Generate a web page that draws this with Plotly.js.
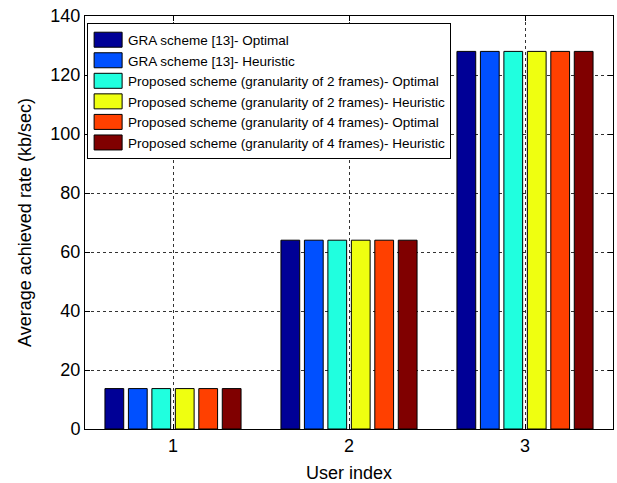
<!DOCTYPE html>
<html>
<head>
<meta charset="utf-8">
<script src="https://cdn.plot.ly/plotly-3.0.1.min.js"></script>
<style>
  html, body { margin: 0; padding: 0; background: #fff; }
  #chart { width: 617px; height: 483px; }
</style>
</head>
<body>
<div id="chart"></div>
<script>
// User indices on the x axis
const users = [1, 2, 3];

// Series names, one per bar in each group
const seriesNames = [
  'GRA scheme [13]- Optimal',
  'GRA scheme [13]- Heuristic',
  'Proposed scheme (granularity of 2 frames)- Optimal',
  'Proposed scheme (granularity of 2 frames)- Heuristic',
  'Proposed scheme (granularity of 4 frames)- Optimal',
  'Proposed scheme (granularity of 4 frames)- Heuristic'
];

// Average achieved rate (kb/sec) per user, for each scheme
const graOptimal      = [13.7, 64, 128];
const graHeuristic    = [13.7, 64, 128];
const prop2Optimal    = [13.7, 64, 128];
const prop2Heuristic  = [13.7, 64, 128];
const prop4Optimal    = [13.7, 64, 128];
const prop4Heuristic  = [13.7, 64, 128];

// Bar fill colours (jet-style palette)
const seriesColors = ['#000096', '#0050FF', '#20FFDF', '#EFFF10', '#FF4000', '#800000'];

const yTicks = [0, 20, 40, 60, 80, 100, 120, 140];

const seriesValues = [graOptimal, graHeuristic, prop2Optimal, prop2Heuristic, prop4Optimal, prop4Heuristic];

const font = 'Liberation Sans, Arial, Helvetica, sans-serif';

const traces = seriesValues.map((vals, i) => ({
  type: 'bar',
  x: users,
  y: vals,
  name: seriesNames[i],
  marker: { color: seriesColors[i], line: { color: '#000', width: 1 } },
  hoverinfo: 'skip'
}));

const axisCommon = {
  showline: true,
  linecolor: '#000',
  linewidth: 1,
  mirror: 'ticks',
  ticks: 'inside',
  ticklen: 5,
  tickcolor: '#000',
  showgrid: true,
  gridcolor: '#333',
  griddash: 'dot',
  gridwidth: 1,
  zeroline: false,
  tickfont: { family: font, size: 18, color: '#000' }
};

const layout = {
  width: 617,
  height: 483,
  margin: { l: 85, r: 4, t: 16, b: 54 },
  paper_bgcolor: '#fff',
  plot_bgcolor: '#fff',
  barmode: 'group',
  bargap: 0.2,
  bargroupgap: 0.2,
  showlegend: true,
  legend: {
    x: 0.004, y: 0.982, xanchor: 'left', yanchor: 'top',
    bgcolor: '#fff', bordercolor: '#000', borderwidth: 1,
    font: { family: font, size: 13.5, color: '#000' },
    itemwidth: 30,
    entrywidth: 310,
    entrywidthmode: 'pixels',
    traceorder: 'normal'
  },
  xaxis: Object.assign({}, axisCommon, {
    range: [0.5, 3.5],
    tickvals: users,
    ticktext: users.map(String),
    title: { text: 'User index', font: { family: font, size: 18, color: '#000' }, standoff: 12 }
  }),
  yaxis: Object.assign({}, axisCommon, {
    range: [0, 140],
    tickvals: yTicks,
    title: { text: 'Average achieved rate (kb/sec)', font: { family: font, size: 18, color: '#000' }, standoff: 14 }
  })
};

Plotly.newPlot('chart', traces, layout, { staticPlot: true, displayModeBar: false }).then(() => {
  // widen the legend swatches into flat rectangles
  document.querySelectorAll('.legend .legendpoints path').forEach(p => {
    p.setAttribute('d', 'M14,7.5H-14V-7.5H14Z');
  });
});
</script>
</body>
</html>
